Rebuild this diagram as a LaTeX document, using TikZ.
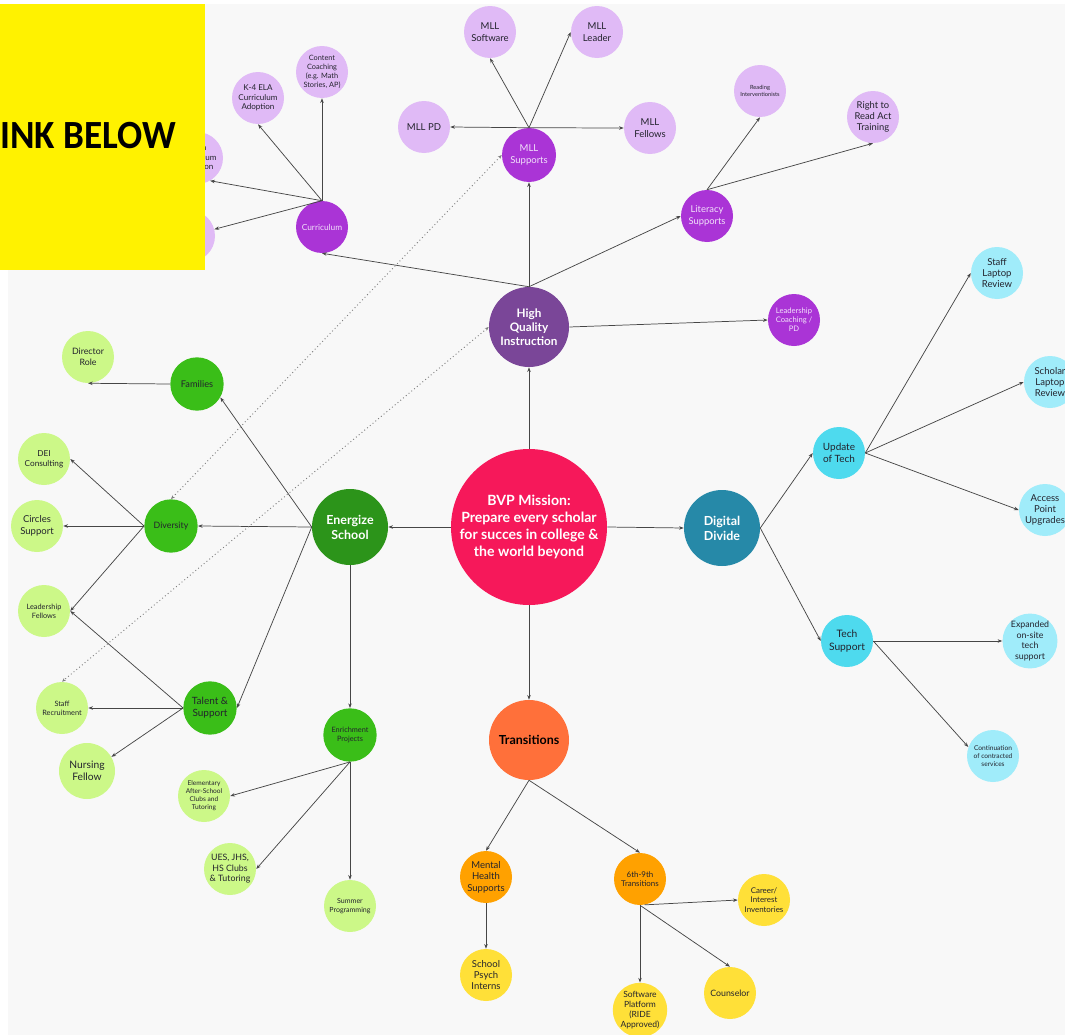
\documentclass[tikz,border=0pt]{standalone}
\usepackage{fontspec}
\setmainfont{Lato}
\newfontfamily\boxfont{Carlito}
\usetikzlibrary{arrows.meta}
\definecolor{bgc}{RGB}{248,248,248}
\definecolor{missionc}{RGB}{246,24,90}
\definecolor{hqic}{RGB}{122,70,152}
\definecolor{energc}{RGB}{44,148,26}
\definecolor{digc}{RGB}{38,137,168}
\definecolor{transc}{RGB}{255,112,58}
\definecolor{purp}{RGB}{170,52,214}
\definecolor{lav}{RGB}{224,186,246}
\definecolor{grn}{RGB}{58,190,24}
\definecolor{lgrn}{RGB}{204,248,136}
\definecolor{cyn}{RGB}{78,218,238}
\definecolor{lcyn}{RGB}{160,236,250}
\definecolor{org}{RGB}{255,161,0}
\definecolor{yel}{RGB}{255,224,56}
\definecolor{txt}{RGB}{35,35,45}
\definecolor{ltxt}{RGB}{242,226,250}
\definecolor{linec}{RGB}{70,70,70}
\newcommand\fsz[1]{\fontsize{\fpeval{1.1*#1}}{\fpeval{1.32*#1}}\selectfont}
\tikzset{
  bub/.style={circle, inner sep=0pt, align=center, minimum size=39pt, text=txt, font=\fsz{6.5}},
  big/.style={bub, font=\bfseries\fsz{8.5}, text=white, minimum size=59pt},
  pu/.style={bub, fill=purp, text=ltxt},
  lv/.style={bub, fill=lav},
  gr/.style={bub, fill=grn, minimum size=40pt},
  lg/.style={bub, fill=lgrn},
  cy/.style={bub, fill=cyn},
  lc/.style={bub, fill=lcyn},
  og/.style={bub, fill=org},
  yl/.style={bub, fill=yel},
  arr/.style={-{Stealth[length=3.5pt,width=2.6pt]}, draw=linec, line width=0.55pt},
  dots/.style={{Stealth[length=3pt,width=2.4pt]}-{Stealth[length=3pt,width=2.4pt]}, draw=gray, dotted, line width=0.7pt},
}
\begin{document}
\begin{tikzpicture}[x=0.75pt,y=-0.75pt]
\useasboundingbox (0,0) rectangle (1065,1035);
\clip (0,0) rectangle (1065,1035);
\fill[white] (0,0) rectangle (1065,1035);
\fill[bgc] (8,4) rectangle (1065,1035);

% main nodes
\node[big, fill=missionc, minimum size=117pt, font=\bfseries\fsz{9.6}] (mission) at (529,527) {BVP Mission:\\Prepare every scholar\\for succes in college \&\\the world beyond};
\node[big, fill=hqic, minimum size=60pt, font=\bfseries\fsz{8}] (hqi) at (529,327) {High\\Quality\\Instruction};
\node[big, fill=energc, minimum size=57pt] (energize) at (350,527) {Energize\\School};
\node[big, fill=digc, minimum size=57pt] (digital) at (722,528) {Digital\\Divide};
\node[big, fill=transc, minimum size=60pt, text=black] (trans) at (529,740) {Transitions};

% purple branch
\node[pu, font=\fsz{5.7}] (cur) at (322,227) {Curriculum};
\node[pu, minimum size=40.5pt] (mlls) at (529,155) {MLL\\Supports};
\node[pu, font=\fsz{6.4}] (lit) at (707,216) {Literacy\\Supports};
\node[pu, font=\fsz{5.2}] (lead) at (794,320) {Leadership\\Coaching /\\PD};
\node[lv] (mllsw) at (490,32) {MLL\\Software};
\node[lv] (mllld) at (597,32) {MLL\\Leader};
\node[lv] (mllpd) at (424,127) {MLL PD};
\node[lv] (mllf) at (650,128) {MLL\\Fellows};
\node[lv, font=\fsz{3.9}] (read) at (760,91) {Reading\\Interventionists};
\node[lv, font=\fsz{6.4}] (rtr) at (873,117) {Right to\\Read Act\\Training};
\node[lv, font=\fsz{5}] (cc) at (322,72) {Content\\Coaching\\(e.g. Math\\Stories, AP)};
\node[lv, font=\fsz{5.5}] (k4) at (258,98) {K-4 ELA\\Curriculum\\Adoption};
\node[lv, font=\fsz{5.5}] (math) at (197,158) {Math\\Curriculum\\Adoption};
\node[lv] (hid) at (189,236) {};

% green branch
\node[gr, font=\fsz{6}] (div) at (171,526) {Diversity};
\node[gr, font=\fsz{6.3}] (fam) at (197,384) {Families};
\node[gr, font=\fsz{6.8}] (tal) at (210,708) {Talent \&\\Support};
\node[gr, font=\fsz{5}] (enr) at (350,735) {Enrichment\\Projects};
\node[lg, font=\fsz{6}] (dir) at (88,357) {Director\\Role};
\node[lg, font=\fsz{5.6}] (dei) at (44,459) {DEI\\Consulting};
\node[lg] (circ) at (37,526) {Circles\\Support};
\node[lg, font=\fsz{5}] (lf) at (44,611) {Leadership\\Fellows};
\node[lg, font=\fsz{5}] (sr) at (62,708) {Staff\\Recruitment};
\node[lg, font=\fsz{7}, minimum size=42pt] (nf) at (87,771) {Nursing\\Fellow};
\node[lg, font=\fsz{4.5}] (elem) at (204,796) {Elementary\\After-School\\Clubs and\\Tutoring};
\node[lg, font=\fsz{6}] (ues) at (230,869) {UES, JHS,\\HS Clubs\\\& Tutoring};
\node[lg, font=\fsz{4.8}] (sum) at (350,906) {Summer\\Programming};

% cyan branch
\node[cy, font=\fsz{6.8}] (upd) at (839,453) {Update\\of Tech};
\node[cy, font=\fsz{7}] (ts) at (847,641) {Tech\\Support};
\node[lc] (slr) at (997,273) {Staff\\Laptop\\Review};
\node[lc] (sclr) at (1050,382) {Scholar\\Laptop\\Review};
\node[lc] (apu) at (1045,510) {Access\\Point\\Upgrades};
\node[lc, font=\fsz{6}] (exp) at (1030,641) {Expanded\\on-site\\tech\\support};
\node[lc, font=\fsz{4.5}] (cont) at (993,756) {Continuation\\of contracted\\services};

% orange branch
\node[og] (mh) at (486,877) {Mental\\Health\\Supports};
\node[og, font=\fsz{5.4}] (t69) at (640,879) {6th-9th\\Transitions};
\node[yl] (spi) at (486,975) {School\\Psych\\Interns};
\node[yl, font=\fsz{5.4}] (car) at (764,900) {Career/\\Interest\\Inventories};
\node[yl, font=\fsz{6}] (cou) at (730,993) {Counselor};
\node[yl, font=\fsz{5.8}] (swp) at (640,1010) {Software\\Platform\\(RIDE\\Approved)};

% connectors
\draw[arr] (mission.north) -- (hqi.south);
\draw[arr] (mission.west) -- (energize.east);
\draw[arr] (mission.east) -- (digital.west);
\draw[arr] (mission.south) -- (trans.north);

\draw[arr] (hqi.north) -- (cur.south);
\draw[arr] (hqi.north) -- (mlls.south);
\draw[arr] (hqi.north) -- (lit.west);
\draw[arr] (hqi.east) -- (lead.west);

\draw[arr] (mlls.north) -- (mllsw.south);
\draw[arr] (mlls.north) -- (mllld.west);
\draw[arr] (mlls.north) -- (mllpd.east);
\draw[arr] (mlls.north) -- (mllf.west);
\draw[arr] (lit.north) -- (read.south);
\draw[arr] (lit.north) -- (rtr.south);

\draw[arr] (cur.north) -- (cc.south);
\draw[arr] (cur.north) -- (k4.south);
\draw[arr] (cur.north) -- (math.-60);
\draw[arr] (cur.north) -- (hid);

\draw[arr] (energize.west) -- (div.east);
\draw[arr] (energize.west) -- (fam.-30);
\draw[arr] (energize.west) -- (tal.east);
\draw[arr] (energize.south) -- (enr.north);
\draw[arr] (fam.west) -- (dir.south);
\draw[arr] (div.west) -- (dei.east);
\draw[arr] (div.west) -- (circ.east);
\draw[arr] (div.west) -- (lf.east);
\draw[arr] (tal.west) -- (sr.east);
\draw[arr] (tal.west) -- (nf.30);
\draw[arr] (tal.west) -- (lf.east);
\draw[arr] (enr.south) -- (elem.east);
\draw[arr] (enr.south) -- (ues.east);
\draw[arr] (enr.south) -- (sum.north);

\draw[arr] (digital.east) -- (upd.west);
\draw[arr] (digital.east) -- (ts.west);
\draw[arr] (upd.east) -- (slr.west);
\draw[arr] (upd.east) -- (sclr.west);
\draw[arr] (upd.east) -- (apu.west);
\draw[arr] (ts.east) -- (exp.west);
\draw[arr] (ts.east) -- (cont.160);

\draw[arr] (trans.south) -- (mh.north);
\draw[arr] (trans.south) -- (t69.north);
\draw[arr] (mh.south) -- (spi.north);
\draw[arr] (t69.-80) -- (car.west);
\draw[arr] (t69.south) -- (swp.north);
\draw[arr] (t69.south) -- (cou.north);

\draw[dots] (mlls.west) -- (div.north);
\draw[dots] (hqi.west) -- (sr.north);

% yellow banner
\fill[yellow] (0,4) rectangle (205,270);
\node[anchor=base east, inner sep=0pt, font=\boxfont\bfseries\fontsize{30}{34}\selectfont, text=black] (banner) at (176,148) {\scalebox{0.93}[1]{INK BELOW}};
\end{tikzpicture}
\end{document}
